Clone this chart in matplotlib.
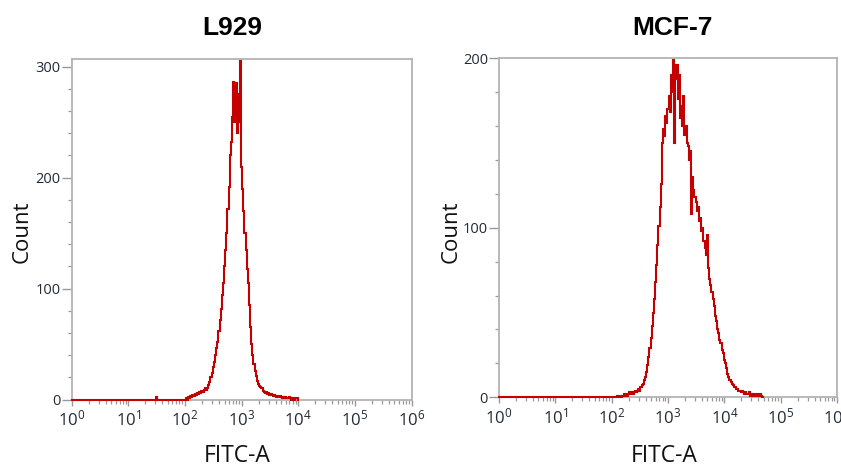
import numpy as np
import matplotlib
matplotlib.use("Agg")
import matplotlib.pyplot as plt
from matplotlib.ticker import FuncFormatter, MultipleLocator, LogLocator

plt.rcParams['font.family'] = ['Open Sans', 'DejaVu Sans']
plt.rcParams['mathtext.default'] = 'regular'

# ---------------- data ----------------
titles = ["L929", "MCF-7"]
xlabel = "FITC-A"
ylabel = "Count"

channel_step = 0.02          # log10 width of one channel
channel_start = 0.0          # log10 of first channel

# L929 counts per channel (log10 0.00 ... 4.00)
l929_low = [0] * 75 + [2] + [0] * 24          # log 0.00 - 1.98
l929_main = [0, 1, 0, 2, 1, 3, 2, 4, 3, 5,
             4, 6, 5, 7, 6, 8, 7, 9, 10, 9,
             10, 13, 16, 20, 24, 29, 34, 40, 46, 52,
             62, 72, 82, 94, 105, 120, 135, 150, 172, 192,
             220, 232, 255, 286, 250, 285, 240, 275, 250, 305,
             210, 190, 170, 150, 135, 118, 105, 85, 65, 50,
             40, 32, 26, 21, 17, 14, 12, 11, 10, 8,
             7, 6, 7, 5, 6, 4, 5, 4, 3, 4,
             3, 2, 3, 2, 3, 2, 1, 2, 1, 2,
             1, 1, 2, 1, 0, 1, 1, 0, 1, 1,
             0]                                 # log 2.00 - 4.00
l929_counts = l929_low + l929_main

# MCF-7 counts per channel (log10 0.00 ... 4.68)
mcf7_low = [0] * 100                            # log 0.00 - 1.98
mcf7_main = [0, 0, 0, 0, 0, 1, 0, 1, 1, 0,
             1, 2, 1, 2, 1, 2, 3, 2, 3, 2,
             3, 4, 3, 4, 5, 4, 6, 7, 8, 10,
             12, 15, 19, 24, 29, 35, 42, 50, 58, 68,
             78, 90, 101, 112, 126, 150, 158, 154, 166, 162,
             170, 178, 168, 190, 180, 199, 150, 188, 196, 176,
             190, 165, 172, 160, 178, 155, 160, 150, 148, 140,
             145, 108, 130, 122, 118, 115, 110, 112, 104, 106,
             98, 100, 92, 88, 84, 96, 76, 70, 66, 62,
             58, 54, 48, 45, 40, 38, 34, 32, 28, 26,
             22, 20, 17, 14, 12, 10, 9, 8, 7, 6,
             6, 5, 5, 4, 4, 3, 4, 3, 2, 3,
             2, 2, 3, 1, 2, 1, 2, 1, 1, 2,
             1, 1, 2, 1, 0]                     # log 2.00 - 4.68
mcf7_counts = mcf7_low + mcf7_main

series = [l929_counts, mcf7_counts]
y_limits = [306.5, 200.3]
y_major = [100, 100]
y_minor = [20, 20]

# ---------------- figure ----------------
W, H = 841, 470
fig = plt.figure(figsize=(W / 100, H / 100), dpi=100)

axes_px = [(71.7, 59.5, 411.5, 399.5), (499.0, 57.7, 837.0, 397.3)]
title_px = [(232, 28), (672, 28)]
xlabel_px = [(237, 456), (664, 456)]
ylabel_px = [(22, 232), (451, 232)]

line_color = '#c40000'
frame_color = '#b3b3b3'
tick_text = '#222a38'

def fmt(v, pos):
    e = int(round(np.log10(v)))
    return r'10$^{%d}$' % e

for i in range(2):
    x0, y0, x1, y1 = axes_px[i]
    ax = fig.add_axes([x0 / W, 1 - y1 / H, (x1 - x0) / W, (y1 - y0) / H])
    counts = np.array(series[i], dtype=float)
    logs = channel_start + channel_step * np.arange(len(counts))
    ax.plot(10 ** logs, counts, drawstyle='steps-mid', color=line_color,
            lw=1.5, solid_joinstyle='miter', zorder=3, clip_on=False)
    ax.set_xscale('log')
    ax.set_xlim(1, 1e6)
    ax.set_ylim(0, y_limits[i])

    ax.xaxis.set_major_locator(LogLocator(base=10, numticks=10))
    ax.xaxis.set_minor_locator(LogLocator(base=10, subs=np.arange(2, 10), numticks=20))
    ax.xaxis.set_major_formatter(FuncFormatter(fmt))
    ax.xaxis.set_minor_formatter(FuncFormatter(lambda v, p: ''))
    ax.yaxis.set_major_locator(MultipleLocator(y_major[i]))
    ax.yaxis.set_minor_locator(MultipleLocator(y_minor[i]))

    for s in ax.spines.values():
        s.set_color(frame_color)
        s.set_linewidth(1.3)
    ax.tick_params(axis='x', which='major', direction='out', length=4.5, width=1,
                   color='#999999', labelsize=12, labelcolor=tick_text, pad=3)
    ax.tick_params(axis='x', which='minor', direction='out', length=3, width=0.9,
                   color='#999999')
    ax.tick_params(axis='y', which='major', direction='out', length=7, width=1,
                   color='#999999', labelsize=10.5, labelcolor=tick_text, pad=1)
    ax.tick_params(axis='y', which='minor', direction='out', length=3, width=0.9,
                   color='#999999')

    tx, ty = title_px[i]
    fig.text(tx / W, 1 - ty / H, titles[i], ha='center', va='center',
             fontsize=19, fontweight='bold', family=['Liberation Sans', 'DejaVu Sans'])
    lx, ly = xlabel_px[i]
    fig.text(lx / W, 1 - ly / H, xlabel, ha='center', va='center', fontsize=16.5,
             color='#111111')
    cx, cy = ylabel_px[i]
    fig.text(cx / W, 1 - cy / H, ylabel, ha='center', va='center', fontsize=16,
             rotation=90, color='#111111')

fig.savefig('out.png', dpi=100)
